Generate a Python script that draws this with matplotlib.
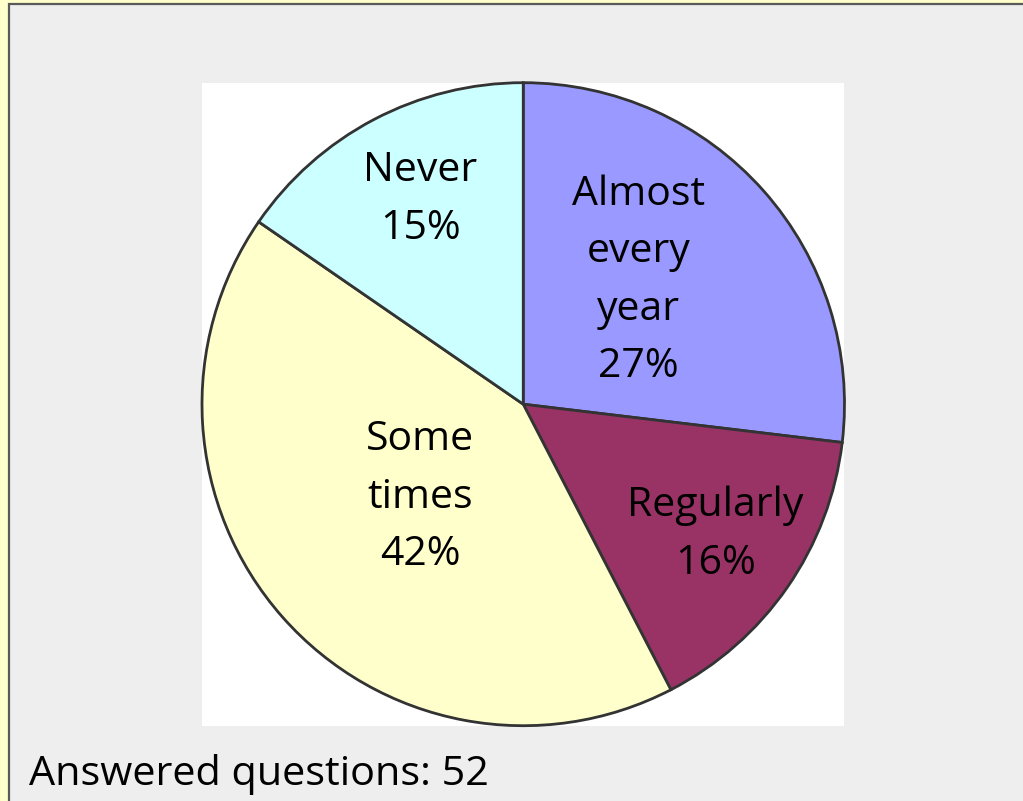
import matplotlib
matplotlib.use("Agg")
import matplotlib.pyplot as plt
from matplotlib.patches import Rectangle
import numpy as np

plt.rcParams['font.family'] = ['Open Sans', 'DejaVu Sans']

categories = ["Almost\nevery\nyear", "Regularly", "Some\ntimes", "Never"]
shares = [26.9, 15.5, 42.2, 15.4]
pct_labels = ["27%", "16%", "42%", "15%"]
colors = ["#9999FF", "#993366", "#FFFFCC", "#CCFFFF"]
footer = "Answered questions: 52"

# label placement (radius fraction, angle offset in degrees)
label_r = [0.525, 0.722, 0.433, 0.712]
label_dang = [5.4, 0.6, 0.6, -1.0]

W, H = 1023, 801
fig = plt.figure(figsize=(W / 100, H / 100), dpi=100)
fig.patch.set_facecolor("#FFFFCC")

# gray panel with dark border on left/top
panel = Rectangle((8.5 / W, -0.1), 1.1, 1.1 - 4.5 / H, transform=fig.transFigure,
                  facecolor="#EEEEEE", edgecolor="#5A5A5A", linewidth=1.6, zorder=-5)
fig.patches.append(panel)

ax = fig.add_axes([202 / W, (H - 725.7) / H, 642.5 / W, 643 / H])
ax.set_zorder(1)
wedges, _ = ax.pie(shares, colors=colors, startangle=90, counterclock=False,
                   radius=1.0, frame=True,
                   wedgeprops=dict(edgecolor="#333333", linewidth=2.0))
ax.set_facecolor("white")
for w in wedges:
    w.set_clip_on(False)
ax.set_xlim(-1.0, 1.0)
ax.set_ylim(-1.0, 1.0)
ax.set_aspect("auto")
for s in ax.spines.values():
    s.set_visible(False)
ax.set_xticks([])
ax.set_yticks([])

for w, cat, pl, r, da in zip(wedges, categories, pct_labels, label_r, label_dang):
    mid = np.deg2rad((w.theta1 + w.theta2) / 2 + da)
    x, y = r * np.cos(mid), r * np.sin(mid)
    ax.text(x, y, cat + "\n" + pl, ha="center", va="center",
            fontsize=29.5, color="black", linespacing=1.56)

fig.text(29 / W, (H - 785) / H, footer, ha="left", va="baseline",
         fontsize=29.8, color="black", zorder=2)

fig.savefig("out.png", dpi=100, facecolor=fig.get_facecolor())
